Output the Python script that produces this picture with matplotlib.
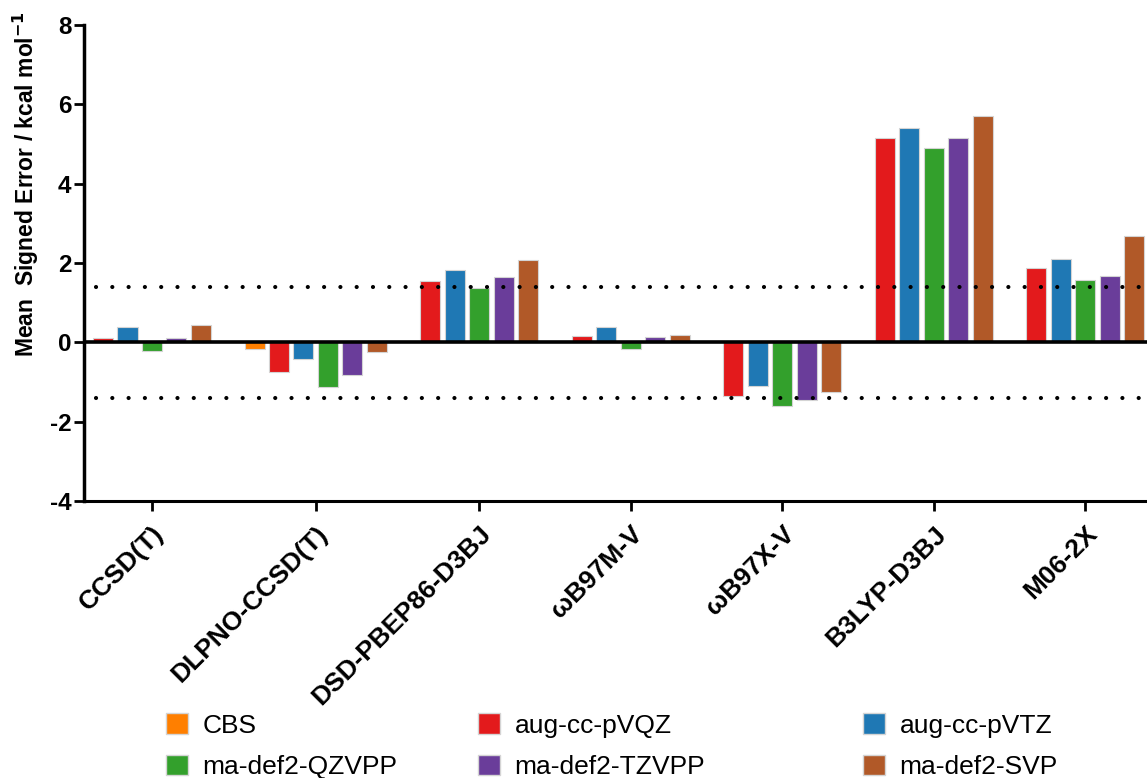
import numpy as np
import matplotlib
matplotlib.use("Agg")
import matplotlib.pyplot as plt
from matplotlib.patches import Patch

plt.rcParams["font.family"] = ["Liberation Sans", "DejaVu Sans"]

methods = ["CCSD(T)", "DLPNO-CCSD(T)", "DSD-PBEP86-D3BJ", "ωB97M-V",
           "ωB97X-V", "B3LYP-D3BJ", "M06-2X"]
series = ["CBS", "aug-cc-pVQZ", "aug-cc-pVTZ", "ma-def2-QZVPP",
          "ma-def2-TZVPP", "ma-def2-SVP"]
nan = np.nan
cbs = [nan, -0.17, nan, nan, nan, nan, nan]
aug_vqz = [0.1, -0.75, 1.54, 0.15, -1.36, 5.16, 1.88]
aug_vtz = [0.39, -0.41, 1.82, 0.39, -1.10, 5.40, 2.10]
ma_qzvpp = [-0.22, -1.13, 1.36, -0.16, -1.61, 4.90, 1.58]
ma_tzvpp = [0.1, -0.82, 1.64, 0.13, -1.46, 5.16, 1.66]
ma_svp = [0.43, -0.25, 2.08, 0.18, -1.24, 5.70, 2.67]
threshold = 1.4

colors = ["#FF7F00", "#E31A1C", "#1F78B4", "#33A02C", "#6A3D9A", "#B15928"]
values = [cbs, aug_vqz, aug_vtz, ma_qzvpp, ma_tzvpp, ma_svp]

W, H = 1147, 778
fig = plt.figure(figsize=(W / 100, H / 100), dpi=100)
ax = fig.add_axes([84 / W, 1 - 501 / H, 1 - 84 / W, (501 - 25) / H])

# lay bars out group by group; only slots with data take space
pos = 0.0
centers = []
first = last = None
for gi in range(len(methods)):
    xs = []
    for si in range(len(series)):
        v = values[si][gi]
        if np.isnan(v):
            continue
        ax.bar(pos, v, width=0.82, color=colors[si], edgecolor="#d4d4d4",
               linewidth=0.8, zorder=2)
        xs.append(pos)
        pos += 1.0
    centers.append(np.mean(xs))
    if first is None:
        first = xs[0]
    last = xs[-1]
    pos += 1.2

ax.set_xlim(first - 0.78, last + 0.53)
ax.set_ylim(-4, 8)
ax.set_yticks(np.arange(-4, 9, 2))
ax.set_yticklabels([str(t) for t in range(-4, 9, 2)], fontsize=17.5, fontweight="bold")
ax.set_xticks(centers)
ax.set_xticklabels(methods, rotation=45, ha="right", rotation_mode="anchor",
                   fontsize=19, fontweight="bold")
ax.tick_params(axis="both", direction="out", length=7, width=2, pad=2)
ax.tick_params(axis="x", pad=8)

ax.axhline(0, color="black", lw=2.6, zorder=3)
for y in (threshold, -threshold):
    ax.plot([first - 0.3, last + 0.53], [y, y], color="black", lw=3,
            linestyle=(0, (0.01, 3.9)), dash_capstyle="round", zorder=4)

ax.spines["top"].set_visible(False)
ax.spines["right"].set_visible(False)
ax.spines["left"].set_linewidth(2.5)
ax.spines["bottom"].set_linewidth(2.2)

ax.set_ylabel("Mean  Signed Error / kcal mol$^{\\mathbf{-1}}$", fontsize=16.5,
              fontweight="bold")
ax.yaxis.set_label_coords(-0.04, 0.665)

# legend: two rows, three columns, each column placed on its own
handles = [Patch(facecolor=c, edgecolor="#d4d4d4") for c in colors]
col_x = [166, 478, 863]
for ci, (a, b) in enumerate([(0, 3), (1, 4), (2, 5)]):
    fig.legend([handles[a], handles[b]], [series[a], series[b]],
               loc="upper left", bbox_to_anchor=(col_x[ci] / W, 1 - 713 / H),
               frameon=False, fontsize=19, borderpad=0, borderaxespad=0,
               handlelength=0.83, handleheight=0.83, handletextpad=0.55,
               labelspacing=0.65)

fig.savefig("out.png", dpi=100)
